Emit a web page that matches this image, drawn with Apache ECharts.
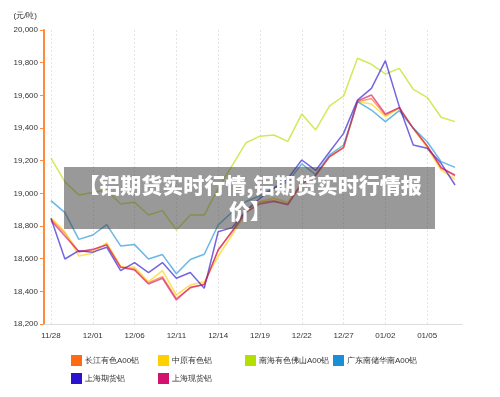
<!DOCTYPE html>
<html>
<head>
<meta charset="utf-8">
<script src="https://cdn.jsdelivr.net/npm/echarts@6/dist/echarts.min.js"></script>
<style>
html, body { margin: 0; padding: 0; background: #fff; }
#chart { width: 500px; height: 397px; }
</style>
</head>
<body>
<div id="chart"></div>
<script>
const dates = ['11/28', '11/29', '11/30', '12/01', '12/02', '12/05', '12/06', '12/07', '12/08', '12/11',
  '12/12', '12/13', '12/14', '12/15', '12/16', '12/19', '12/20', '12/21', '12/22', '12/23',
  '12/26', '12/27', '12/28', '12/29', '01/02', '01/03', '01/04', '01/05', '01/06', '01/09']

// 长江有色A00铝
const changjiang = [18843, 18755, 18643, 18653, 18688, 18551, 18537, 18453, 18490, 18357,
  18420, 18445, 18650, 18770, 18895, 18945, 18955, 18935, 19065, 19110,
  19225, 19280, 19560, 19580, 19478, 19524, 19398, 19290, 19160, 19105]
// 中原有色铝
const zhongyuan = [18851, 18765, 18616, 18633, 18698, 18551, 18547, 18459, 18527, 18378,
  18439, 18459, 18615, 18745, 18880, 18950, 18970, 18945, 19055, 19110,
  19225, 19280, 19560, 19547, 19470, 19524, 19398, 19278, 19143, 19086]
// 南海有色佛山A00铝
const nanhai = [19215, 19070, 18990, 19005, 19020, 18935, 18945, 18867, 18894, 18776,
  18867, 18867, 19030, 19170, 19310, 19350, 19357, 19318, 19486, 19388,
  19535, 19596, 19827, 19790, 19731, 19765, 19637, 19588, 19466, 19439]
// 广东南储华南A00铝
const guangdong = [18955, 18882, 18718, 18745, 18808, 18678, 18686, 18598, 18625, 18508,
  18595, 18627, 18806, 18885, 18950, 18985, 19035, 19070, 19180, 19115,
  19235, 19296, 19561, 19510, 19439, 19506, 19400, 19316, 19194, 19159]
// 上海期货铝
const shfe = [18847, 18598, 18649, 18640, 18670, 18527, 18576, 18515, 18576, 18480,
  18515, 18419, 18765, 18790, 18895, 18970, 19030, 19090, 19204, 19140,
  19255, 19367, 19571, 19643, 19812, 19531, 19296, 19276, 19184, 19051]
// 上海现货铝
const shSpot = [18833, 18739, 18643, 18657, 18684, 18547, 18531, 18445, 18480, 18347,
  18425, 18440, 18655, 18765, 18885, 18935, 18950, 18930, 19060, 19112,
  19225, 19280, 19565, 19602, 19486, 19524, 19398, 19290, 19155, 19112]

const seriesNames = ['长江有色A00铝', '中原有色铝', '南海有色佛山A00铝', '广东南储华南A00铝', '上海期货铝', '上海现货铝']
const seriesData = [changjiang, zhongyuan, nanhai, guangdong, shfe, shSpot]
const colors = ['#ff6a13', '#ffd000', '#b3e000', '#1a8fd6', '#2a12d0', '#d1136f']

const chart = echarts.init(document.getElementById('chart'))

// 图例位置（两行四列）
const legendPos = [[71, 355], [158, 355], [245, 355], [333, 355], [71, 373], [158, 373]]

const option = {
  animation: false,
  color: colors,
  grid: { left: 44, right: 38, top: 30, bottom: 73 },
  legend: seriesNames.map((name, i) => ({
    data: [name],
    left: legendPos[i][0],
    top: legendPos[i][1],
    icon: 'rect',
    itemWidth: 11,
    itemHeight: 11,
    itemGap: 0,
    padding: 0,
    textStyle: { fontSize: 8, color: '#333', padding: [0, 0, 0, -2] }
  })),
  xAxis: {
    type: 'category',
    data: dates,
    boundaryGap: true,
    axisLine: { lineStyle: { color: '#ddd' } },
    axisTick: { interval: 2, alignWithLabel: true, length: 3, lineStyle: { color: '#ccc' } },
    axisLabel: { interval: 2, fontSize: 8, color: '#333', margin: 8 },
    splitLine: {
      show: true,
      interval: 2,
      alignWithLabel: true,
      lineStyle: { color: '#e4e4e4', type: [2, 2] }
    }
  },
  yAxis: {
    type: 'value',
    min: 18200,
    max: 20000,
    interval: 200,
    name: '(元/吨)',
    nameLocation: 'end',
    nameGap: 10,
    nameTextStyle: { fontSize: 8, color: '#333', align: 'right', padding: [0, 7, 0, 0] },
    axisLine: { show: true, lineStyle: { color: '#ff8a3d', width: 2 } },
    axisTick: { show: true, length: 4, lineStyle: { color: '#ff8a3d' } },
    axisLabel: {
      fontSize: 8,
      color: '#333',
      margin: 6,
      formatter: v => v.toLocaleString('en-US')
    },
    splitLine: { show: false }
  },
  graphic: [
    {
      type: 'rect',
      left: 64,
      top: 167,
      shape: { width: 371, height: 62 },
      style: { fill: 'rgba(70,70,70,0.55)' },
      z: 100
    },
    {
      type: 'text',
      x: 250,
      y: 172,
      style: {
        text: '【铝期货实时行情,铝期货实时行情报\n价】',
        fill: '#fff',
        font: '900 21px "Noto Sans CJK SC"',
        lineHeight: 26,
        align: 'center',
        verticalAlign: 'top'
      },
      z: 101
    }
  ],
  series: seriesNames.map((name, i) => ({
    name: name,
    type: 'line',
    data: seriesData[i],
    symbol: 'none',
    smooth: false,
    lineStyle: { width: 1.5, opacity: 0.65 }
  }))
}

chart.setOption(option)
</script>
</body>
</html>
